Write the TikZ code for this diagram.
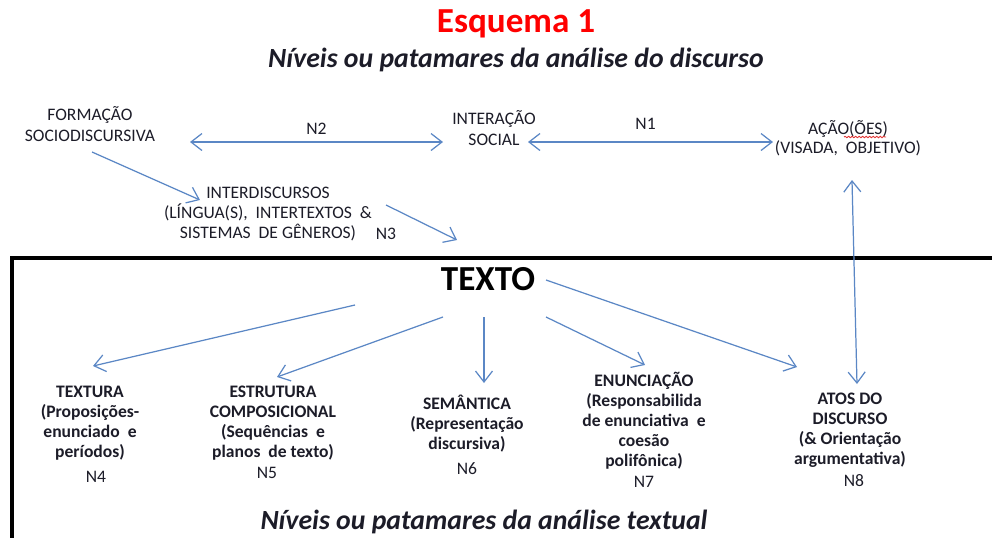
\documentclass[tikz,border=0pt]{standalone}
\usepackage{fontspec}
\setmainfont{Carlito}
\usetikzlibrary{arrows.meta,decorations.pathmorphing}
\definecolor{Arrow}{HTML}{5B87C5}
\definecolor{Ink}{HTML}{1C1C28}
\definecolor{Headline}{HTML}{FF0000}
\definecolor{Spell}{HTML}{E03030}
\tikzset{
  >={Straight Barb[length=2.2mm,width=3.4mm]},
  lvl/.style={align=center,text=Ink,font=\fontsize{10}{12}\selectfont,inner sep=2pt},
  lvlb/.style={align=center,text=Ink,font=\fontsize{10}{11.4}\selectfont\bfseries,inner sep=2pt},
  num/.style={text=Ink,font=\fontsize{10}{12}\selectfont,inner sep=1pt},
  link/.style={->,draw=Arrow,line width=.7pt},
  both/.style={<->,draw=Arrow,line width=.7pt},
  heading/.style={font=\fontsize{15.8}{18}\selectfont\bfseries\itshape,text=Ink},
  frame/.style={draw=black,line width=2.1pt}
}
\begin{document}
\begin{tikzpicture}[x=0.02cm,y=-0.02cm]
  \useasboundingbox (0,0) rectangle (992,538);
  % titles
  \node[font=\fontsize{20}{24}\selectfont\bfseries,text=Headline] (title) at (516,24) {Esquema 1};
  \node[heading] (sub) at (516,60) {Níveis ou patamares da análise do discurso};
  % discourse levels
  \node[lvl] (formacao) at (90,124) {FORMAÇÃO\\SOCIODISCURSIVA};
  \node[lvl] (interacao) at (494,128) {INTERAÇÃO\\SOCIAL};
  \node[lvl,font=\fontsize{10}{11}\selectfont] (acao) at (848,138) {AÇÃO(ÕES)\\(VISADA,~ OBJETIVO)};
  \node[lvl,font=\fontsize{10}{11.4}\selectfont] (interd) at (268,214) {INTERDISCURSOS\\(LÍNGUA(S),~ INTERTEXTOS~ \&\\SISTEMAS~ DE GÊNEROS)};
  \node[num] (n3) at (386,234) {N3};
  \draw[Spell,line width=.5pt,decorate,decoration={snake,amplitude=.4pt,segment length=2pt}]
    ([shift={(-4,-1)}]acao.center) -- ([shift={(38,-1)}]acao.center);
  \draw[both] ([shift={(100,18)}]formacao.center) -- node[num,midway,above=3pt] (n2) {N2} ([shift={(-51,14)}]interacao.center);
  \draw[both] ([shift={(34,14)}]interacao.center) -- node[num,pos=.48,above=6pt] (n1) {N1} ([shift={(-75,4)}]acao.center);
  \draw[link] ([shift={(2,28)}]formacao.center) -- ([shift={(-68,-14)}]interd.center);
  \draw[link] ([shift={(118,-9)}]interd.center) -- (457,240);
  % text frame
  \draw[frame] (992,258) -- (12,258) -- (12,540);
  \node[font=\fontsize{20}{24}\selectfont\bfseries,text=black] (texto) at (488,279) {TEXTO};
  % textual levels
  \node[lvlb] (textura) at (90,423) {TEXTURA\\(Proposições-\\enunciado~ e\\períodos)};
  \node[num] (n4) at (96,477) {N4};
  \node[lvlb] (estrutura) at (273,423) {ESTRUTURA\\COMPOSICIONAL\\(Sequências~ e\\planos~ de texto)};
  \node[num] (n5) at (267,473) {N5};
  \node[lvlb] (semantica) at (467,424) {SEMÂNTICA\\(Representação\\discursiva)};
  \node[num] (n6) at (467,469) {N6};
  \node[lvlb] (enunciacao) at (644,421) {ENUNCIAÇÃO\\(Responsabilida\\de enunciativa~ e\\coesão\\polifônica)};
  \node[num] (n7) at (644,482) {N7};
  \node[lvlb] (atos) at (850,430) {ATOS DO\\DISCURSO\\(\& Orientação\\argumentativa)};
  \node[num] (n8) at (854,481) {N8};
  \draw[link] ([shift={(-133,26)}]texto.center) -- ([shift={(3,-57)}]textura.center);
  \draw[link] ([shift={(-45,38)}]texto.center) -- ([shift={(4,-46)}]estrutura.center);
  \draw[link] ([shift={(-4,38)}]texto.center) -- ([shift={(17,-41)}]semantica.center);
  \draw[link] ([shift={(58,38)}]texto.center) -- ([shift={(1,-56)}]enunciacao.center);
  \draw[link] ([shift={(58,1)}]texto.center) -- ([shift={(-53,-63)}]atos.center);
  \draw[both] ([shift={(4,42)}]acao.center) -- ([shift={(7,-46)}]atos.center);
  \node[heading] (subtext) at (484,522) {Níveis ou patamares da análise textual};
\end{tikzpicture}
\end{document}
